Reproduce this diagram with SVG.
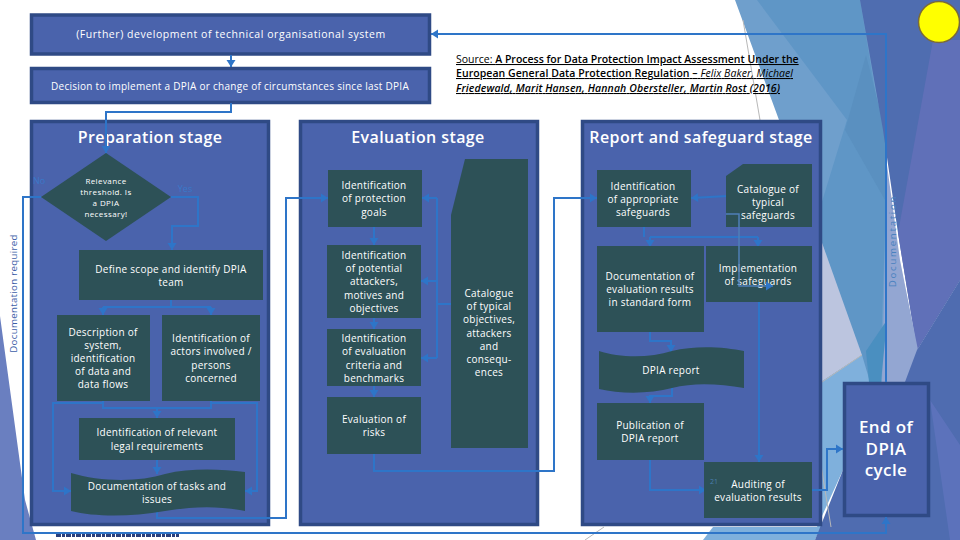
<svg xmlns="http://www.w3.org/2000/svg" width="960" height="540" viewBox="0 0 960 540">
<style>
text{font-family:"Open Sans","Liberation Sans",sans-serif;fill:#fff;text-anchor:middle}
.t{font-size:10px;letter-spacing:.27px}
.h{font-size:16px;font-weight:600;letter-spacing:.4px}
.e{font-size:17px;font-weight:600;letter-spacing:.4px}
.b{fill:#4a63ac;stroke:#2f4a85;stroke-width:3.5}
.n{fill:#2d5157}
.c{fill:none;stroke:#2e75c8;stroke-width:2;marker-end:url(#a)}
.p{fill:none;stroke:#2e75c8;stroke-width:2}
.src{font-size:10.5px;fill:#000;text-anchor:start;font-weight:600;text-decoration:underline}
.g{fill:none;stroke:#b8b8b8;stroke-width:1}
</style>
<defs><marker id="a" markerUnits="userSpaceOnUse" markerWidth="10" markerHeight="10" refX="8" refY="5" orient="auto"><path d="M1 0.500L8 5L1 9.500Z" fill="#2e75c8"/></marker></defs>
<rect width="960" height="540" fill="#fff"/>
<g id="background">
<polygon points="0,316 25,500 36,540 0,540" fill="#6a7fc0"/>
<polygon points="735,0 862,0 885,130 885,382 843,382 821,400 821,240 779,120" fill="#6f9fcc"/>
<polygon points="757,0 860,0 880,120 887,170 880,382 870,382 821,240 821,205 847,120" fill="#5f96c6"/>
<polygon points="866,55 885,130 885,200 845,130" fill="#5a90c0"/>
<polygon points="860,0 960,0 960,280 917,350 898,233 883,130" fill="#4f6db0"/>
<polygon points="933,40 960,40 960,280 917,350 898,233" fill="#6070b8"/>
<polygon points="887,165 900,260 918,350 925,382 882,382" fill="#93a6d2"/>
<polygon points="821,240 862,355 821,382" fill="#bcc5df"/>
<polygon points="821,382 862,355 870,382 843,382 843,470 817,527 821,527" fill="#7fb0dc"/>
<polygon points="866,351 887,320 881,382 869,382" fill="#4a8fc0"/>
<polygon points="713,527 821,527 815,540 703,540" fill="#7fb0dc"/>
<polygon points="917,350 960,280 960,540 815,540 843,470 843,382 905,382" fill="#4f6cb0"/>
<polygon points="930,400 960,445 960,540 950,540" fill="#5c72bb"/>
<path class="g" d="M743 20L760 120"/><path class="g" d="M822 382L862 355"/><path class="g" d="M585 540L604 527"/><path class="g" d="M821 465L831 527"/>
</g>
<g id="sun"><circle cx="939" cy="22" r="20.500" fill="#ff0" stroke="#7a6a3a" stroke-width="1.500"/></g>
<g id="source"><text class="src" x="456" y="63"><tspan style="font-weight:400;text-decoration:none">Source: </tspan>A Process for Data Protection Impact Assessment Under the</text>
<text class="src" x="456" y="77" textLength="337">European General Data Protection Regulation – <tspan font-style="italic" font-weight="400">Felix Baker, Michael</tspan></text>
<text class="src" x="456" y="92" font-style="italic" font-weight="400" textLength="324">Friedewald, Marit Hansen, Hannah Obersteller, Martin Rost (2016)</text></g>
<g id="n-further"><rect class="b" x="31.500" y="15" width="398" height="39"/><text class="t" x="231" y="38" style="font-size:10.500px;letter-spacing:.55px">(Further) development of technical organisational system</text></g>
<g id="n-decision"><rect class="b" x="31.500" y="68.500" width="398" height="34"/><text class="t" x="230" y="90">Decision to implement a DPIA or change of circumstances since last DPIA</text></g>
<g id="n-prep"><rect class="b" x="31.500" y="121.500" width="237" height="403"/><text class="h" x="150" y="143">Preparation stage</text></g>
<g id="n-eval"><rect class="b" x="300.500" y="121.500" width="237" height="403"/><text class="h" x="418" y="143">Evaluation stage</text></g>
<g id="n-report"><rect class="b" x="582.500" y="121.500" width="238" height="403"/><text class="h" x="701" y="143">Report and safeguard stage</text></g>
<g id="n-end"><rect class="b" x="844.500" y="383.500" width="84" height="132"/><text class="e" x="886" y="433">End of</text><text class="e" x="886" y="455">DPIA</text><text class="e" x="886" y="476">cycle</text></g>
<g id="connectors">
<path class="c" d="M886 382V34H431"/>
<path class="c" d="M231 55V67"/>
<path class="c" d="M231 103V112H106V153"/>
<path class="c" d="M171 197H198V226H172V250"/>
<path class="c" d="M41 197H23V533H886V517"/>
<path class="p" d="M171 300V307"/><path class="p" d="M103 307H211"/>
<path class="c" d="M103 307V315"/><path class="c" d="M211 307V315"/>
<path class="p" d="M103 401V408H211V401"/><path class="c" d="M157 408V418"/>
<path class="c" d="M103 403H53V491H71"/><path class="c" d="M211 403H257V491H245"/>
<path class="c" d="M157 460V474"/>
<path class="c" d="M157 510V518H286V198H328"/>
<path class="c" d="M374 227V245"/><path class="c" d="M374 318V329"/><path class="c" d="M374 386V397"/>
<path class="p" d="M451 304H437"/><path class="c" d="M437 198H422"/><path class="c" d="M437 281H421"/><path class="c" d="M437 358H421"/><path class="p" d="M437 198V358"/>
<path class="c" d="M374 454V471H554V198H597"/>
<path class="c" d="M728 196L691 198"/>
<path class="p" d="M644 227V237"/><path class="p" d="M650 237H758"/><path class="c" d="M650 237V247"/><path class="c" d="M758 237V247"/>
<path class="c" d="M650 332V341H671V352"/>
<path class="c" d="M672 388V396H650V403"/>
<path class="c" d="M650 460V490H706"/>
<path class="c" d="M810 490H827V449H843"/>
</g>
<g id="n-diamond"><polygon class="n" points="41,197 106,153 171,197 106,241"/><g style="font-size:8px;letter-spacing:.4px"><text x="106" y="184">Relevance</text><text x="106" y="195">threshold. Is</text><text x="106" y="206">a DPIA</text><text x="106" y="217">necessary!</text></g></g>
<g id="n-scope"><rect class="n" x="79" y="250" width="184" height="50"/><text class="t" x="171" y="273">Define scope and identify DPIA</text><text class="t" x="171" y="286">team</text></g>
<g id="n-desc"><rect class="n" x="57" y="315" width="93" height="86"/><text class="t" x="103" y="336">Description of</text><text class="t" x="103" y="349">system,</text><text class="t" x="103" y="362">identification</text><text class="t" x="103" y="375">of data and</text><text class="t" x="103" y="388">data flows</text></g>
<g id="n-actors"><rect class="n" x="162" y="315" width="98" height="86"/><text class="t" x="211" y="342">Identification of</text><text class="t" x="211" y="355">actors involved /</text><text class="t" x="211" y="369">persons</text><text class="t" x="211" y="382">concerned</text></g>
<g id="n-legal"><rect class="n" x="79" y="418" width="156" height="42"/><text class="t" x="157" y="436">Identification of relevant</text><text class="t" x="157" y="450">legal requirements</text></g>
<g id="n-doc"><path class="n" d="M71 473C100 482 140 482 165 474C190 468 220 469 245 472V511C215 505 190 507 165 511C130 517 95 517 71 511Z"/><text class="t" x="157" y="490">Documentation of tasks and</text><text class="t" x="157" y="503">issues</text></g>
<g id="n-goals"><rect class="n" x="328" y="170" width="94" height="57"/><text class="t" x="374" y="189">Identification</text><text class="t" x="374" y="202">of protection</text><text class="t" x="374" y="216">goals</text></g>
<g id="n-attack"><rect class="n" x="327" y="245" width="94" height="73"/><text class="t" x="374" y="259">Identification</text><text class="t" x="374" y="272">of potential</text><text class="t" x="374" y="285">attackers,</text><text class="t" x="374" y="299">motives and</text><text class="t" x="374" y="312">objectives</text></g>
<g id="n-criteria"><rect class="n" x="327" y="329" width="94" height="57"/><text class="t" x="374" y="342">Identification</text><text class="t" x="374" y="355">of evaluation</text><text class="t" x="374" y="369">criteria and</text><text class="t" x="374" y="382">benchmarks</text></g>
<g id="n-risks"><rect class="n" x="327" y="397" width="94" height="57"/><text class="t" x="374" y="423">Evaluation of</text><text class="t" x="374" y="436">risks</text></g>
<g id="n-catalogue"><polygon class="n" points="465,159 528,159 528,448 451,448 451,215"/><text class="t" x="489" y="297">Catalogue</text><text class="t" x="489" y="310">of typical</text><text class="t" x="489" y="323">objectives,</text><text class="t" x="489" y="337">attackers</text><text class="t" x="489" y="350">and</text><text class="t" x="489" y="363">consequ-</text><text class="t" x="489" y="376">ences</text></g>
<g id="n-safeguards"><rect class="n" x="597" y="170" width="94" height="57"/><text class="t" x="643" y="190">Identification</text><text class="t" x="643" y="203">of appropriate</text><text class="t" x="643" y="216">safeguards</text></g>
<g id="n-typical"><polygon class="n" points="743,164 812,164 812,227 726,227 726,176"/><text class="t" x="768" y="193">Catalogue of</text><text class="t" x="768" y="206">typical</text><text class="t" x="768" y="219">safeguards</text></g>
<g id="n-results"><rect class="n" x="597" y="246" width="107" height="86"/><text class="t" x="650" y="280">Documentation of</text><text class="t" x="650" y="293">evaluation results</text><text class="t" x="650" y="306">in standard form</text></g>
<g id="n-impl"><rect class="n" x="706" y="246" width="106" height="56"/><text class="t" x="758" y="272">Implementation</text><text class="t" x="758" y="285">of safeguards</text></g>
<g id="n-dpia"><path class="n" d="M599 351C620 358 650 358 672 351C695 345 725 347 744 351V388C720 384 695 382 672 388C650 394 620 394 599 389Z"/><text class="t" x="671" y="374">DPIA report</text></g>
<g id="n-pub"><rect class="n" x="597" y="403" width="107" height="57"/><text class="t" x="650" y="429">Publication of</text><text class="t" x="650" y="442">DPIA report</text></g>
<g id="n-audit"><rect class="n" x="704" y="462" width="108" height="56"/><text class="t" x="758" y="488">Auditing of</text><text class="t" x="758" y="501">evaluation results</text></g>
<g id="overlay-connectors">
<path class="c" d="M759 302V462"/>
<path class="c" d="M726 214H739V286H773" style="stroke:#4f7fb8;stroke-width:1.500"/>
</g>
<g id="labels"><text x="39" y="184" style="font-size:9px;fill:#3a78c8">No</text><text x="185" y="192" style="font-size:9px;fill:#3a78c8">Yes</text><text x="714" y="484" style="font-size:7px;fill:#4a7fae">21</text><text transform="translate(17 293.500) rotate(-90)" style="font-size:9.700px;fill:#3d5ea8;letter-spacing:.3px">Documentation required</text><text transform="translate(896 241) rotate(-90)" style="font-size:9.700px;fill:#4a82c0;letter-spacing:1.700px">Documentation</text></g>
<path id="fine-print" d="M56 535.500H179" fill="none" stroke="#2a3f7c" stroke-width="3" stroke-dasharray="5 1 3 1"/>
</svg>
